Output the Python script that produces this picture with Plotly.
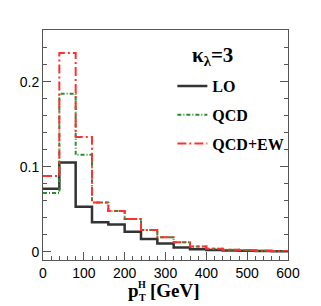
import plotly.graph_objects as go

bin_edges = [0, 40, 80, 120, 160, 200, 240, 280, 320, 360, 400, 440, 480, 520, 560, 600]
lo = [0.074, 0.105, 0.053, 0.0346, 0.032, 0.0235, 0.015, 0.0095, 0.005, 0.003, 0.002, 0.0013, 0.001, 0.0007, 0.0005]
qcd = [0.069, 0.186, 0.114, 0.058, 0.048, 0.0385, 0.0255, 0.017, 0.011, 0.006, 0.0035, 0.0024, 0.0016, 0.0011, 0.0008]
qcd_ew = [0.089, 0.234, 0.135, 0.058, 0.048, 0.0385, 0.0255, 0.017, 0.011, 0.006, 0.0035, 0.0024, 0.0016, 0.0011, 0.0008]

def step(vals):
    return bin_edges, list(vals) + [vals[-1]]

fig = go.Figure()
series = [
    ("LO", lo, dict(color="#333333", width=2.5, dash="solid")),
    ("QCD", qcd, dict(color="#2e8b2e", width=2, dash="4px,2px,1px,2px")),
    ("QCD+EW", qcd_ew, dict(color="#ff3030", width=2, dash="9px,3px,2px,3px")),
]
for name, vals, ln in series:
    x, y = step(vals)
    fig.add_trace(go.Scatter(x=x, y=y, mode="lines", line_shape="hv", line=ln,
                             name="<b>%s</b>" % name, legendgroup=name))

tickfont = dict(family="Liberation Sans", size=14, color="black")
fig.update_xaxes(range=[0, 600], tickvals=[0, 100, 200, 300, 400, 500, 600], ticklen=8,
                 minor=dict(dtick=20, ticks="inside", ticklen=4, tickcolor="#555"),
                 showline=True, linecolor="#555", linewidth=1, mirror=True,
                 showgrid=False, zeroline=False, ticks="inside", tickcolor="#555",
                 tickfont=tickfont)
fig.update_yaxes(range=[-0.0098, 0.261], tickvals=[0, 0.1, 0.2], ticktext=["0", "0.1", "0.2"], ticklen=8,
                 minor=dict(dtick=0.02, ticks="inside", ticklen=4, tickcolor="#555"),
                 showline=True, linecolor="#555", linewidth=1, mirror="ticks",
                 showgrid=False, zeroline=False, ticks="inside", tickcolor="#555",
                 tickfont=tickfont)

def pann(px, py, text, size, anchor="left"):
    fig.add_annotation(x=(px - 38) / 250, y=(260 - py) / 230, xref="paper", yref="paper",
                       text=text, showarrow=False, xanchor=anchor, yanchor="middle",
                       font=dict(size=size, family="Liberation Serif", color="black"),
                       borderpad=0)

# legend title
pann(189, 56, "<b>κ<sub>λ</sub>=3</b>", 21)
# x-axis title built from parts
pann(124, 290, "<b>p</b>", 19)
pann(134, 284, "<b>H</b>", 10)
pann(135, 297, "<b>T</b>", 10)
pann(146, 290, "<b>[GeV]</b>", 19)

fig.update_layout(
    width=313, height=298,
    margin=dict(l=30, r=33, t=22, b=46),
    paper_bgcolor="white", plot_bgcolor="white",
    showlegend=True,
    legend=dict(x=(170 - 38) / 250, y=(260 - 69) / 230, xanchor="left", yanchor="top",
                font=dict(family="Liberation Serif", size=16, color="black"),
                bgcolor="rgba(0,0,0,0)", itemwidth=30, tracegroupgap=5),
)
fig.write_html("out.html")
